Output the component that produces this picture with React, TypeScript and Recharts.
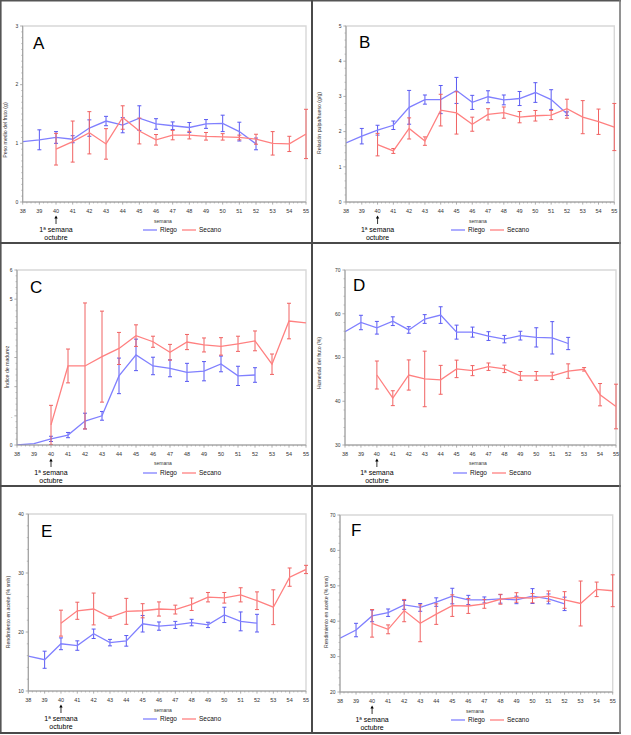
import React from 'react';
import { LineChart, Line, XAxis, YAxis, ErrorBar, ReferenceArea } from 'recharts';

// ---------- data ----------
const weeks = [38, 39, 40, 41, 42, 43, 44, 45, 46, 47, 48, 49, 50, 51, 52, 53, 54, 55];
const weekLabels = ['38', '39', '40', '41', '42', '43', '44', '45', '46', '47', '48', '49', '50', '51', '52', '53', '54', '55'];
const seriesNames = ['Riego', 'Secano'];

// A - Peso medio del fruto (g)
const aRiego = [1.03, 1.06, 1.10, 1.07, 1.26, 1.38, 1.31, 1.43, 1.33, 1.30, 1.27, 1.33, 1.34, 1.20, 0.99, null, null, null];
const aRiegoErr = [0, 0.17, 0.10, 0.06, 0.14, 0.08, 0.13, 0.21, 0.09, 0.065, 0.085, 0.075, 0.14, 0.16, 0.10, null, null, null];
const aSecano = [null, null, 0.90, 1.03, 1.18, 0.99, 1.44, 1.21, 1.06, 1.14, 1.14, 1.12, 1.11, 1.10, 1.07, 1.00, 0.99, 1.16];
const aSecanoErr = [null, null, 0.27, 0.35, 0.36, 0.26, 0.20, 0.22, 0.09, 0.08, 0.065, 0.065, 0.055, 0.04, 0.085, 0.20, 0.13, 0.42];
const aYTicks = [0, 1, 2, 3];
const aYLabels = ['0', '1', '2', '3'];

// B - Relación pulpa/hueso (g/g)
const bRiego = [1.68, 1.87, 2.04, 2.18, 2.69, 2.91, 2.91, 3.17, 2.83, 2.99, 2.90, 2.94, 3.11, 2.91, 2.51, null, null, null];
const bRiegoErr = [0, 0.22, 0.14, 0.12, 0.48, 0.13, 0.40, 0.37, 0.20, 0.17, 0.14, 0.20, 0.28, 0.28, 0.05, null, null, null];
const bSecano = [null, null, 1.63, 1.45, 2.09, 1.73, 2.61, 2.53, 2.21, 2.49, 2.54, 2.41, 2.45, 2.47, 2.65, 2.41, 2.28, 2.13];
const bSecanoErr = [null, null, 0.32, 0.07, 0.30, 0.12, 0.45, 0.60, 0.20, 0.16, 0.16, 0.16, 0.15, 0.13, 0.27, 0.47, 0.36, 0.67];
const bYTicks = [0, 1, 2, 3, 4, 5];
const bYLabels = ['0', '1', '2', '3', '4', '5'];

// C - Índice de madurez
const cRiego = [0, 0.05, 0.21, 0.34, 0.82, 1.00, 2.37, 3.09, 2.71, 2.63, 2.49, 2.53, 2.78, 2.37, 2.40, null, null, null];
const cRiegoErr = [0, 0, 0.09, 0.09, 0.27, 0.15, 0.61, 0.54, 0.30, 0.29, 0.31, 0.33, 0.27, 0.33, 0.25, null, null, null];
const cSecano = [null, null, 0.69, 2.71, 2.71, 3.03, 3.31, 3.75, 3.54, 3.18, 3.53, 3.43, 3.38, 3.47, 3.57, 2.77, 4.25, 4.19];
const cSecanoErr = [null, null, 0.67, 0.58, 2.16, 1.56, 0.55, 0.37, 0.19, 0.27, 0.26, 0.24, 0.30, 0.26, 0.34, 0.35, 0.61, 0];
const cYTicks = [0, 1, 2, 3, 4, 5, 6];
const cYLabels = ['0', '.', '', '', '', '5', '6'];

// D - Humedad del fruto (%)
const dRiego = [55.9, 58.0, 56.8, 58.3, 56.3, 58.8, 59.7, 55.8, 55.8, 54.9, 54.2, 55.0, 54.6, 54.5, 53.2, null, null, null];
const dRiegoErr = [0, 1.65, 1.45, 1.0, 0.75, 1.0, 1.9, 1.6, 1.15, 1.0, 0.85, 1.0, 2.2, 3.7, 1.4, null, null, null];
const dSecano = [null, null, 46.0, 40.7, 46.0, 45.1, 44.9, 47.4, 47.0, 47.9, 47.4, 45.8, 45.8, 45.8, 46.9, 47.3, 41.5, 38.8];
const dSecanoErr = [null, null, 3.2, 1.7, 3.45, 6.35, 3.3, 2.0, 1.15, 0.85, 0.85, 1.0, 1.0, 0.85, 1.65, 0.4, 2.55, 5.1];
const dYTicks = [30, 40, 50, 60, 70];
const dYLabels = ['30', '40', '50', '60', '70'];

// E - Rendimiento en aceite (% smh)
const eRiego = [15.9, 15.3, 18.0, 17.7, 19.7, 18.2, 18.5, 21.4, 21.0, 21.2, 21.6, 21.2, 22.9, 21.8, 21.5, null, null, null];
const eRiegoErr = [0, 1.45, 1.0, 0.8, 0.8, 0.55, 0.9, 1.4, 0.7, 0.6, 0.55, 0.45, 1.3, 1.6, 1.5, null, null, null];
const eSecano = [null, null, 21.5, 23.6, 23.9, 22.5, 23.5, 23.6, 23.9, 23.8, 24.7, 25.9, 25.8, 26.3, 25.3, 24.2, 29.3, 30.6];
const eSecanoErr = [null, null, 2.2, 1.45, 2.7, 0.15, 2.2, 1.2, 1.2, 0.75, 1.05, 0.8, 0.9, 1.2, 1.5, 2.95, 1.55, 0.7];
const eYTicks = [10, 20, 30, 40];
const eYLabels = ['10', '20', '30', '40'];

// F - Rendimiento en aceite (% sms)
const fRiego = [35.2, 37.5, 41.5, 42.4, 44.6, 43.9, 45.4, 47.1, 46.0, 46.0, 46.3, 46.0, 47.1, 46.3, 44.9, null, null, null];
const fRiegoErr = [0, 1.9, 1.65, 1.05, 1.25, 1.1, 1.2, 2.2, 1.3, 0.85, 1.2, 1.05, 2.1, 1.4, 1.9, null, null, null];
const fSecano = [null, null, 39.4, 37.7, 43.0, 39.4, 42.0, 44.4, 44.3, 44.9, 46.2, 46.7, 46.5, 47.1, 46.0, 45.0, 49.0, 48.6];
const fSecanoErr = [null, null, 3.9, 1.25, 3.15, 5.2, 2.9, 3.05, 2.1, 1.25, 1.4, 1.35, 1.3, 1.45, 2.35, 6.35, 2.05, 4.5];
const fYTicks = [20, 30, 40, 50, 60, 70];
const fYLabels = ['20', '30', '40', '50', '60', '70'];

// ---------- styles ----------
const FONT = "'Liberation Sans', Arial, sans-serif";
const BLUE = '#8080ff';
const BLUE_ERR = '#5a5af2';
const RED = '#ff8080';
const RED_ERR = '#f06262';
const AXIS = '#9a9a9a';
const FRAME = '#d8d8d8';
const TXT = '#333';
const PW = 312;
const PH = 248;

type Num = number | null;

type PanelCfg = {
  letter: string;
  left: number;
  top: number;
  plotLeft: number;
  plotRight: number;
  plotTop: number;
  plotBottom: number;
  yTicks: number[];
  yLabels: string[];
  yMinor: number;
  yTitle: string;
  riego: Num[];
  riegoErr: Num[];
  secano: Num[];
  secanoErr: Num[];
  letterX: number;
  letterY: number;
  titleX: number;
  titleY: number;
  semanaX: number;
  semanaY: number;
  legendX: number;
  legendY: number;
};

const panels: PanelCfg[] = [
  {
    letter: 'A', left: 0, top: 0, plotLeft: 22.7, plotRight: 306, plotTop: 26, plotBottom: 202,
    yTicks: aYTicks, yLabels: aYLabels, yMinor: 10, yTitle: 'Peso medio del fruto (g)',
    riego: aRiego, riegoErr: aRiegoErr, secano: aSecano, secanoErr: aSecanoErr,
    letterX: 33, letterY: 49, titleX: 6, titleY: 130, semanaX: 163, semanaY: 221, legendX: 143, legendY: 230,
  },
  {
    letter: 'B', left: 312, top: 0, plotLeft: 34, plotRight: 302.3, plotTop: 26, plotBottom: 202,
    yTicks: bYTicks, yLabels: bYLabels, yMinor: 5, yTitle: 'Relación pulpa/hueso (g/g)',
    riego: bRiego, riegoErr: bRiegoErr, secano: bSecano, secanoErr: bSecanoErr,
    letterX: 47, letterY: 48, titleX: 8, titleY: 123, semanaX: 166, semanaY: 221, legendX: 139, legendY: 230,
  },
  {
    letter: 'C', left: 0, top: 243, plotLeft: 17, plotRight: 306, plotTop: 27, plotBottom: 202,
    yTicks: cYTicks, yLabels: cYLabels, yMinor: 5, yTitle: 'Índice de madurez',
    riego: cRiego, riegoErr: cRiegoErr, secano: cSecano, secanoErr: cSecanoErr,
    letterX: 30, letterY: 50, titleX: 8, titleY: 124, semanaX: 163, semanaY: 220, legendX: 143, legendY: 230,
  },
  {
    letter: 'D', left: 312, top: 243, plotLeft: 33, plotRight: 304, plotTop: 27, plotBottom: 202,
    yTicks: dYTicks, yLabels: dYLabels, yMinor: 5, yTitle: 'Humedad del fruto (%)',
    riego: dRiego, riegoErr: dRiegoErr, secano: dSecano, secanoErr: dSecanoErr,
    letterX: 41, letterY: 48, titleX: 8, titleY: 120, semanaX: 166, semanaY: 220, legendX: 141, legendY: 230,
  },
  {
    letter: 'E', left: 0, top: 486, plotLeft: 28.3, plotRight: 306, plotTop: 28, plotBottom: 205,
    yTicks: eYTicks, yLabels: eYLabels, yMinor: 5, yTitle: 'Rendimiento en aceite (% smh)',
    riego: eRiego, riegoErr: eRiegoErr, secano: eSecano, secanoErr: eSecanoErr,
    letterX: 41, letterY: 51, titleX: 9, titleY: 126, semanaX: 163, semanaY: 224, legendX: 143, legendY: 233,
  },
  {
    letter: 'F', left: 312, top: 486, plotLeft: 28, plotRight: 300.7, plotTop: 29, plotBottom: 206,
    yTicks: fYTicks, yLabels: fYLabels, yMinor: 5, yTitle: 'Rendimiento en aceite (% sms)',
    riego: fRiego, riegoErr: fRiegoErr, secano: fSecano, secanoErr: fSecanoErr,
    letterX: 39, letterY: 50, titleX: 15, titleY: 126, semanaX: 163, semanaY: 225, legendX: 139, legendY: 234,
  },
];

// minor tick positions (axis decoration)
const subdivide = (majors: number[], n: number) => {
  const out: number[] = [];
  for (let i = 0; i < majors.length - 1; i++) {
    const a = majors[i];
    const b = majors[i + 1];
    for (let k = 0; k < n; k++) out.push(a + ((b - a) * k) / n);
  }
  out.push(majors[majors.length - 1]);
  return out;
};
const xTicksAll = subdivide(weeks, 4);

const XTick = (props: any) => {
  const { x, y, payload } = props;
  const v = payload.value as number;
  const idx = weeks.findIndex((w) => Math.abs(w - v) < 1e-6);
  if (idx < 0) {
    return <line x1={x} x2={x} y1={y} y2={y + 1.5} stroke={AXIS} strokeWidth={0.6} />;
  }
  return (
    <g>
      <line x1={x} x2={x} y1={y} y2={y + 2.6} stroke={AXIS} strokeWidth={0.8} />
      <text x={x} y={y + 11} textAnchor="middle" fontSize={5.5} fill={TXT} fontFamily={FONT}>
        {weekLabels[idx]}
      </text>
      {weeks[idx] === 40 && (
        <g>
          <line x1={x} x2={x} y1={y + 15.5} y2={y + 22} stroke="#000" strokeWidth={0.8} />
          <path d={`M${x - 1.7},${y + 16.6} L${x},${y + 13.4} L${x + 1.7},${y + 16.6} Z`} fill="#000" />
          <text x={x} y={y + 29.5} textAnchor="middle" fontSize={7} fill="#000" fontFamily={FONT}>
            1ª semana
          </text>
          <text x={x} y={y + 37.5} textAnchor="middle" fontSize={7} fill="#000" fontFamily={FONT}>
            octubre
          </text>
        </g>
      )}
    </g>
  );
};

const makeYTick = (majors: number[], labels: string[]) => (props: any) => {
  const { x, y, payload } = props;
  const v = payload.value as number;
  const i = majors.findIndex((m) => Math.abs(m - v) < 1e-6);
  if (i < 0) {
    return <line x1={x} x2={x - 1.5} y1={y} y2={y} stroke={AXIS} strokeWidth={0.6} />;
  }
  return (
    <g>
      <line x1={x} x2={x - 2.6} y1={y} y2={y} stroke={AXIS} strokeWidth={0.8} />
      <text x={x - 4.5} y={y + 1.8} textAnchor="end" fontSize={5} fill={TXT} fontFamily={FONT}>
        {labels[i]}
      </text>
    </g>
  );
};

const Panel = ({ cfg }: { cfg: PanelCfg }) => {
  const data = weeks.map((w, i) => ({
    week: w,
    r: cfg.riego[i],
    re: cfg.riegoErr[i],
    s: cfg.secano[i],
    se: cfg.secanoErr[i],
  }));
  const yMin = cfg.yTicks[0];
  const yMax = cfg.yTicks[cfg.yTicks.length - 1];
  const yTicksAll = subdivide(cfg.yTicks, cfg.yMinor);
  const lx = cfg.legendX;
  const ly = cfg.legendY;
  return (
    <div style={{ position: 'absolute', left: cfg.left, top: cfg.top, width: PW, height: PH }}>
      <LineChart
        width={PW}
        height={PH}
        data={data}
        margin={{ top: cfg.plotTop, right: PW - cfg.plotRight, bottom: 0, left: 0 }}
      >
        <ReferenceArea
          x1={38}
          x2={55}
          y1={yMin}
          y2={yMax}
          fill="none"
          stroke={FRAME}
          strokeWidth={1.4}
          ifOverflow="visible"
        />
        <XAxis
          dataKey="week"
          type="number"
          domain={[38, 55]}
          ticks={xTicksAll}
          interval={0}
          height={PH - cfg.plotBottom}
          tickSize={0}
          tickMargin={0}
          tickLine={false}
          axisLine={{ stroke: AXIS, strokeWidth: 1 }}
          tick={XTick}
          allowDataOverflow
        />
        <YAxis
          type="number"
          domain={[yMin, yMax]}
          ticks={yTicksAll}
          interval={0}
          width={cfg.plotLeft}
          tickSize={0}
          tickMargin={0}
          tickLine={false}
          axisLine={{ stroke: AXIS, strokeWidth: 1 }}
          tick={makeYTick(cfg.yTicks, cfg.yLabels)}
          allowDataOverflow
        />
        <Line
          dataKey="r"
          name={seriesNames[0]}
          stroke={BLUE}
          strokeWidth={1.3}
          dot={false}
          activeDot={false}
          isAnimationActive={false}
        >
          <ErrorBar dataKey="re" width={2} stroke={BLUE_ERR} strokeWidth={1} direction="y" isAnimationActive={false} />
        </Line>
        <Line
          dataKey="s"
          name={seriesNames[1]}
          stroke={RED}
          strokeWidth={1.3}
          dot={false}
          activeDot={false}
          isAnimationActive={false}
        >
          <ErrorBar dataKey="se" width={2} stroke={RED_ERR} strokeWidth={1} direction="y" isAnimationActive={false} />
        </Line>
      </LineChart>
      <svg
        width={PW}
        height={PH}
        style={{ position: 'absolute', left: 0, top: 0, pointerEvents: 'none', overflow: 'visible' }}
      >
        <text x={cfg.letterX} y={cfg.letterY} fontSize={17} fill="#000" fontFamily={FONT}>
          {cfg.letter}
        </text>
        <text
          x={cfg.titleX}
          y={cfg.titleY}
          transform={`rotate(-90 ${cfg.titleX} ${cfg.titleY})`}
          textAnchor="middle"
          dominantBaseline="middle"
          fontSize={5.2}
          fill={TXT}
          fontFamily={FONT}
        >
          {cfg.yTitle}
        </text>
        <text x={cfg.semanaX} y={cfg.semanaY + 1.8} textAnchor="middle" fontSize={5} fill={TXT} fontFamily={FONT}>
          semana
        </text>
        <line x1={lx} x2={lx + 14} y1={ly} y2={ly} stroke={BLUE} strokeWidth={1.3} />
        <text x={lx + 17} y={ly + 2.3} fontSize={6.5} fill="#111" fontFamily={FONT}>
          {seriesNames[0]}
        </text>
        <line x1={lx + 39} x2={lx + 53} y1={ly} y2={ly} stroke={RED} strokeWidth={1.3} />
        <text x={lx + 56} y={ly + 2.3} fontSize={6.5} fill="#111" fontFamily={FONT}>
          {seriesNames[1]}
        </text>
      </svg>
    </div>
  );
};

export default function App() {
  return (
    <div style={{ position: 'absolute', left: 0, top: 0, width: 631, height: 735, background: '#fff', overflow: 'hidden' }}>
      {panels.map((p) => (
        <Panel key={p.letter} cfg={p} />
      ))}
      <svg width={631} height={735} style={{ position: 'absolute', left: 0, top: 0, pointerEvents: 'none' }}>
        <line x1={0} x2={621} y1={0.8} y2={0.8} stroke="#555" strokeWidth={1.6} />
        <line x1={0.8} x2={0.8} y1={0} y2={734} stroke="#555" strokeWidth={1.6} />
        <line x1={312} x2={312} y1={0} y2={734} stroke="#4a4a4a" strokeWidth={2} />
        <line x1={0} x2={621} y1={243} y2={243} stroke="#4a4a4a" strokeWidth={2} />
        <line x1={0} x2={621} y1={486} y2={486} stroke="#4a4a4a" strokeWidth={2} />
        <line x1={0} x2={621} y1={733} y2={733} stroke="#4a4a4a" strokeWidth={2} />
        <line x1={620} x2={620} y1={0} y2={734} stroke="#777" strokeWidth={1.6} />
      </svg>
    </div>
  );
}
